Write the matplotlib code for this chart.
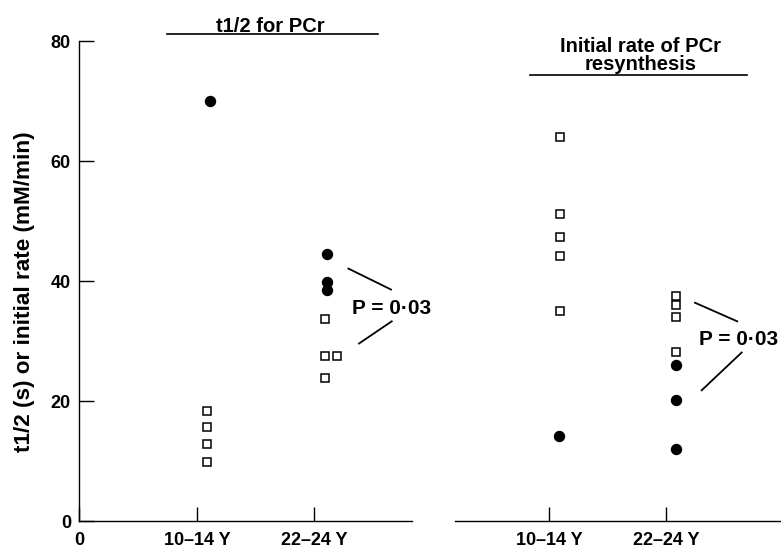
import matplotlib
matplotlib.use("Agg")
import matplotlib.pyplot as plt

plt.rcParams['font.family'] = ['Liberation Sans', 'DejaVu Sans']

# ---- data ----
categories = ['10–14 Y', '22–24 Y']
y_label = 't1/2 (s) or initial rate (mM/min)'
left_title = 't1/2 for PCr'
right_title = ['Initial rate of PCr', 'resynthesis']
p_text = 'P = 0·03'

# t1/2 for PCr
thalf_young_sq = [18.3, 15.6, 12.9, 9.9]
thalf_young_dot = [70.0]
thalf_adult_dot = [44.6, 39.9, 38.5]
thalf_adult_sq = [33.7, 27.6, 27.6, 23.8]

# initial rate of PCr resynthesis
rate_young_sq = [64.1, 51.2, 47.3, 44.2, 35.1]
rate_young_dot = [14.2]
rate_adult_sq = [37.5, 36.1, 34.0, 28.2]
rate_adult_dot = [26.0, 20.1, 12.0]

yticks = [0, 20, 40, 60, 80]

# ---- layout ----
W, H = 781, 549
fig = plt.figure(figsize=(W / 100, H / 100), dpi=100)

def fx(px):
    return px / W

def fy(py):
    return 1 - py / H

ax1 = fig.add_axes([fx(79.3), fy(521), fx(411.7) - fx(79.3), fy(41.3) - fy(521)])
ax2 = fig.add_axes([fx(455), fy(521), fx(781) - fx(455), fy(41.3) - fy(521)])

sq = dict(marker='s', ms=6.0, mfc='white', mec='black', mew=1.1, ls='none', clip_on=False)
dot = dict(marker='o', ms=8.2, mfc='black', mec='black', mew=0, ls='none', clip_on=False)

# left panel
ax1.plot([1.088] * len(thalf_young_sq), thalf_young_sq, **sq)
ax1.plot([1.113] * len(thalf_young_dot), thalf_young_dot, **dot)
ax1.plot([2.105] * len(thalf_adult_dot), thalf_adult_dot, **dot)
ax1.plot([2.091, 2.091, 2.193, 2.091], thalf_adult_sq, **sq)

# right panel
ax2.plot([1.094] * len(rate_young_sq), rate_young_sq, **sq)
ax2.plot([1.083] * len(rate_young_dot), rate_young_dot, **dot)
ax2.plot([2.085] * len(rate_adult_sq), rate_adult_sq, **sq)
ax2.plot([2.085] * len(rate_adult_dot), rate_adult_dot, **dot)

for ax in (ax1, ax2):
    ax.set_ylim(0, 80)
    for s in ('top', 'right'):
        ax.spines[s].set_visible(False)
    ax.spines['bottom'].set_linewidth(1.0)
    ax.spines['left'].set_linewidth(1.0)
    ax.tick_params(axis='x', direction='in', length=10, width=1.0, pad=8,
                   labelsize=13)
    ax.set_facecolor('none')

ax1.set_xlim(0, 2.828)
ax2.set_xlim(0.197, 2.983)

ax1.set_xticks([0, 1, 2])
ax1.set_xticklabels(['0'] + categories, fontweight='bold')
ax1.set_yticks(yticks)
ax1.set_yticklabels([str(v) for v in yticks], fontweight='bold')
ax1.tick_params(axis='y', direction='in', length=11, width=1.0, pad=6, labelsize=13)

ax2.spines['left'].set_visible(False)
ax2.set_xticks([1, 2])
ax2.set_xticklabels(categories, fontweight='bold')
ax2.set_yticks([])

fig.text(fx(25), fy(292), y_label, rotation=90, ha='center', va='center',
         fontsize=16.2, fontweight='bold')

# titles
ax1.text(1.623, 81.55, left_title, ha='center', va='baseline', fontsize=14.5,
         fontweight='bold', clip_on=False)
ax1.plot([0.747, 2.542], [81.28, 81.28], color='black', lw=1.2, clip_on=False)

ax2.text(1.782, 78.2, right_title[0], ha='center', va='baseline', fontsize=14.5,
         fontweight='bold', clip_on=False)
ax2.text(1.782, 75.15, right_title[1], ha='center', va='baseline', fontsize=14.5,
         fontweight='bold', clip_on=False)
ax2.plot([0.838, 2.692], [74.33, 74.33], color='black', lw=1.2, clip_on=False)

# P-value annotations
ax1.plot([2.289, 2.652], [42.1, 38.6], color='black', lw=1.3, clip_on=False)
ax1.plot([2.658, 2.380], [33.3, 29.6], color='black', lw=1.3, clip_on=False)
ax1.text(2.656, 35.45, p_text, ha='center', va='center', fontsize=15,
         fontweight='bold', clip_on=False)

ax2.plot([2.248, 2.609], [36.4, 33.3], color='black', lw=1.3, clip_on=False)
ax2.plot([2.647, 2.305], [28.1, 21.8], color='black', lw=1.3, clip_on=False)
ax2.text(2.624, 30.3, p_text, ha='center', va='center', fontsize=15,
         fontweight='bold', clip_on=False)

fig.savefig('out.png', dpi=100)
